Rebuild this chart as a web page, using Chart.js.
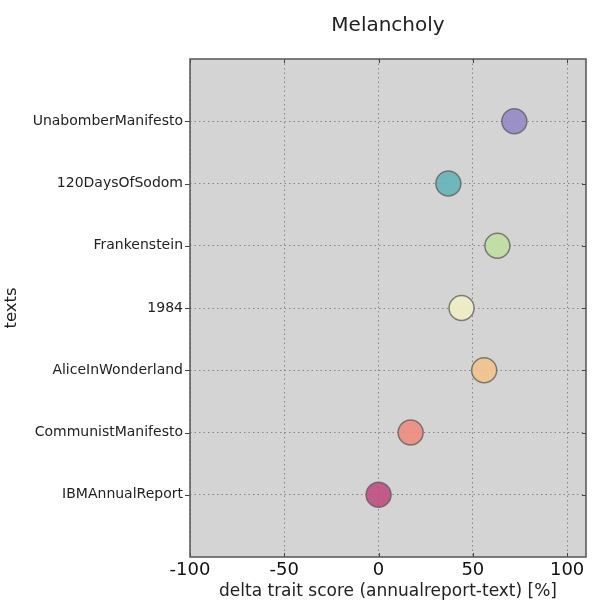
<!DOCTYPE html>
<html><head><meta charset="utf-8">
<script src="https://cdn.jsdelivr.net/npm/chart.js@4/dist/chart.umd.min.js"></script>
<style>html,body{margin:0;padding:0;background:#fff;overflow:hidden}#w{width:595px;height:602px;position:relative}canvas{display:block}</style>
</head><body><div id="w"><canvas id="c"></canvas></div>
<script>
const categories = ["IBMAnnualReport","CommunistManifesto","AliceInWonderland","1984","Frankenstein","120DaysOfSodom","UnabomberManifesto"];
const deltaValues = [0, 17, 56, 44, 63, 37, 72];
const pointColors = ["rgba(190,78,130,0.9)","rgba(236,140,125,0.9)","rgba(242,196,140,0.9)","rgba(238,238,196,0.9)","rgba(192,222,160,0.9)","rgba(100,180,186,0.9)","rgba(150,138,196,0.9)"];
const xTicks = [-100,-50,0,50,100];

const pts = deltaValues.map((v,i)=>({x:v,y:i}));
const FONT = "'DejaVu Sans', sans-serif";
const PLOT_RIGHT = 586;

const fixRight = {
  id:'fixRight',
  afterLayout(chart){
    const a = chart.chartArea;
    a.right = PLOT_RIGHT; a.width = a.right - a.left;
    const x = chart.scales.x;
    x.right = PLOT_RIGHT; x.width = x.right - x.left;
    x.configure(); x._labelItems = null; x._gridLineItems = null;
    const y = chart.scales.y; y._gridLineItems = null; y._labelItems = null;
    const t = chart.titleBlock;
    if (t) { t.left = a.left; t.right = a.right; t.width = a.width; }
  }
};
const tickMarks = {
  id:'tickMarks',
  afterDraw(chart){
    const {ctx, chartArea:a, scales:{x,y}} = chart;
    ctx.save();
    ctx.strokeStyle='#444'; ctx.lineWidth=1;
    ctx.beginPath();
    xTicks.forEach(t=>{const px=Math.round(x.getPixelForValue(t))+0.5;
      ctx.moveTo(px,a.bottom); ctx.lineTo(px,a.bottom-4);
      ctx.moveTo(px,a.top); ctx.lineTo(px,a.top+4);});
    categories.forEach((c,i)=>{const py=Math.round(y.getPixelForValue(i))+0.5;
      ctx.moveTo(a.left,py); ctx.lineTo(a.left-5,py);
      ctx.moveTo(a.right,py); ctx.lineTo(a.right-4,py);});
    ctx.stroke();
    ctx.strokeStyle='#555'; ctx.lineWidth=1.5;
    ctx.strokeRect(a.left,a.top,a.right-a.left,a.bottom-a.top);
    ctx.restore();
  }
};
const bg = {
  id:'bg',
  beforeDraw(chart){const {ctx,chartArea:a}=chart;ctx.save();ctx.fillStyle='#d4d4d4';ctx.fillRect(a.left,a.top,a.right-a.left,a.bottom-a.top);ctx.restore();}
};

new Chart(document.getElementById('c'),{
  type:'scatter',
  data:{datasets:[{data:pts,backgroundColor:pointColors,borderColor:'rgba(90,90,90,0.75)',borderWidth:1.5,pointRadius:12.5,pointHoverRadius:12.5}]},
  options:{
    responsive:true, maintainAspectRatio:false, animation:false,
    layout:{padding:{left:0,right:9,top:0,bottom:0}},
    plugins:{legend:{display:false},tooltip:{enabled:false},
      title:{display:true,text:'Melancholy',fullSize:false,color:'#222',font:{family:FONT,size:20,weight:'normal'},padding:{top:14,bottom:21}}},
    scales:{
      x:{type:'linear',min:-100,max:110,z:1,
        afterBuildTicks(s){s.ticks=xTicks.map(v=>({value:v}));},
        afterFit(s){s.height=45;},
        border:{display:false,dash:[1.5,3]},
        grid:{color:'rgba(120,120,120,0.85)',drawTicks:false,lineWidth:1},
        ticks:{color:'#111',font:{family:FONT,size:18},padding:3,maxRotation:0},
        title:{display:true,text:'delta trait score (annualreport-text) [%]',color:'#222',font:{family:FONT,size:17},padding:{top:-1,bottom:0}}
      },
      y:{type:'linear',min:-1,max:7,z:1,
        afterBuildTicks(s){s.ticks=categories.map((c,i)=>({value:i}));},
        afterFit(s){s.width=190;},
        border:{display:false,dash:[1.5,3]},
        grid:{color:'rgba(120,120,120,0.85)',drawTicks:false,lineWidth:1},
        ticks:{color:'#222',font:{family:FONT,size:14},padding:7,callback:(v)=>categories[v]},
        title:{display:true,text:'texts',color:'#222',font:{family:FONT,size:16.5},padding:{top:2,bottom:0}}
      }
    }
  },
  plugins:[fixRight,bg,tickMarks]
});
</script></body></html>
